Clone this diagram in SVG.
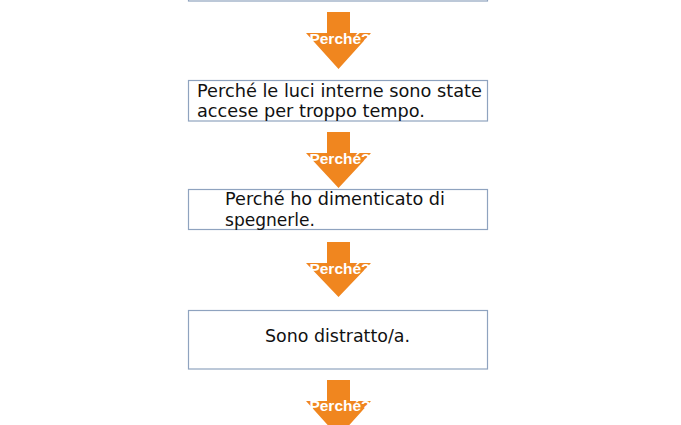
<svg xmlns="http://www.w3.org/2000/svg" width="681" height="425" viewBox="0 0 681 425">
<style>
.box{fill:#ffffff;stroke:#8FA3BF;stroke-width:1.2}
.t{font-family:"DejaVu Sans","Liberation Sans",sans-serif;font-size:17.5px;fill:#111111}
.arr{fill:#F0861F}
.lbl{font-family:"Liberation Sans",Arial,sans-serif;font-weight:bold;font-size:15.5px;fill:#ffffff;text-anchor:middle}
</style>
<rect width="681" height="425" fill="#ffffff"/>
<g id="node0"><rect class="box" x="188.5" y="-40" width="299" height="41"/></g>
<g id="node1">
<rect class="box" x="188.5" y="80.5" width="299" height="40.5"/>
<text class="t" x="197" y="96.5" textLength="285" lengthAdjust="spacingAndGlyphs">Perché le luci interne sono state</text>
<text class="t" x="197" y="117" textLength="228" lengthAdjust="spacingAndGlyphs">accese per troppo tempo.</text>
</g>
<g id="node2">
<rect class="box" x="188.5" y="189.5" width="299" height="40"/>
<text class="t" x="225" y="204.5" textLength="220" lengthAdjust="spacingAndGlyphs">Perché ho dimenticato di</text>
<text class="t" x="225" y="225.5" textLength="90" lengthAdjust="spacingAndGlyphs">spegnerle.</text>
</g>
<g id="node3">
<rect class="box" x="188.5" y="310.5" width="299" height="58.5"/>
<text class="t" x="265" y="342" textLength="145" lengthAdjust="spacingAndGlyphs">Sono distratto/a.</text>
</g>
<g id="connectors">
<g id="arrow1">
<polygon class="arr" points="327,12 350,12 350,33 371,33 338.5,69 306,33 327,33"/>
<text class="lbl" x="340" y="44">Perché?</text>
</g>
<g id="arrow2">
<polygon class="arr" points="327,132 350,132 350,153 371,153 338.5,188 306,153 327,153"/>
<text class="lbl" x="340" y="164">Perché?</text>
</g>
<g id="arrow3">
<polygon class="arr" points="327,242 350,242 350,263 371,263 338.5,297 306,263 327,263"/>
<text class="lbl" x="340" y="274">Perché?</text>
</g>
<g id="arrow4">
<polygon class="arr" points="327,380 350,380 350,401 371,401 338.5,437 306,401 327,401"/>
<text class="lbl" x="340" y="411">Perché?</text>
</g>
</g>
</svg>
